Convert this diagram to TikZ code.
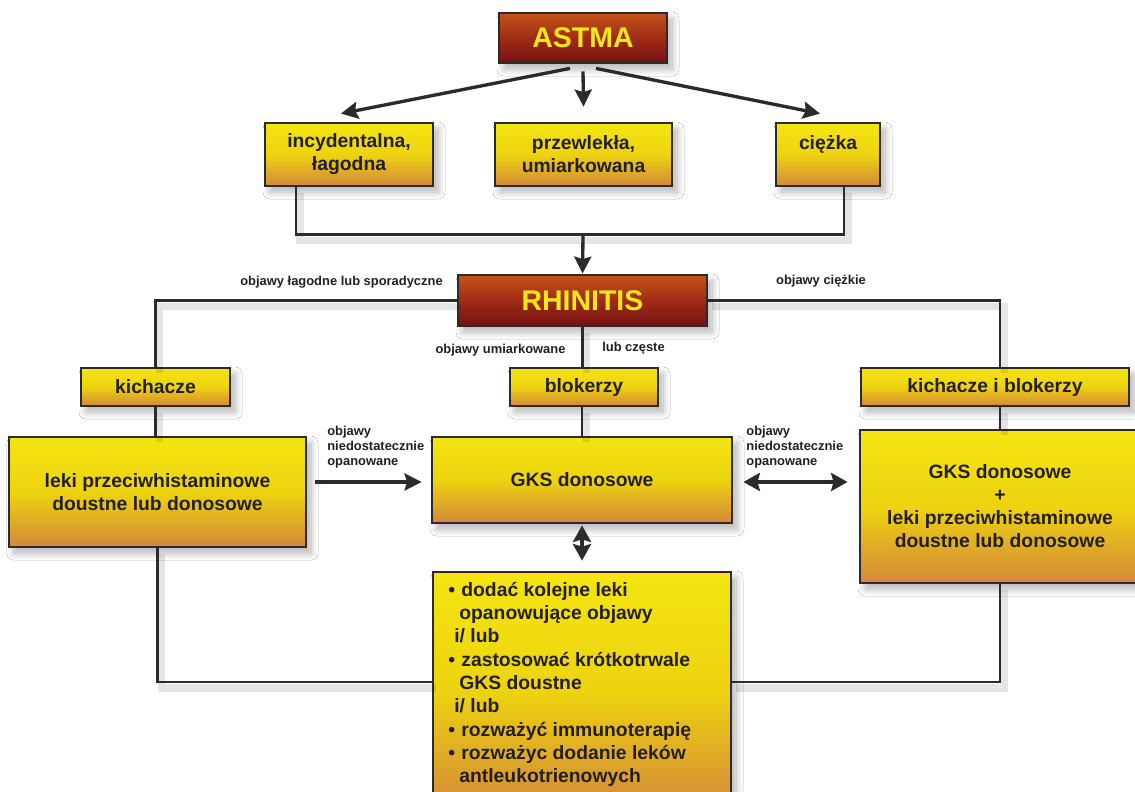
\documentclass[tikz,border=0pt]{standalone}
\usepackage{fontspec}
\setmainfont{Liberation Sans}
\usetikzlibrary{arrows.meta,calc,shadows.blur}
\newdimen\pxu \pxu=0.02cm
\definecolor{ytop}{HTML}{F4E512}
\definecolor{ymid}{HTML}{EDD310}
\definecolor{ybot}{HTML}{D4883A}
\definecolor{rtop}{HTML}{C4531A}
\definecolor{rmid}{HTML}{A02C14}
\definecolor{rbot}{HTML}{741012}
\definecolor{bordc}{HTML}{2B2B2B}
\definecolor{txtc}{HTML}{231F20}
\definecolor{ytxt}{HTML}{F6E61C}
\tikzset{
  shd/.style={blur shadow={shadow xshift=5\pxu, shadow yshift=-6\pxu, shadow blur radius=7\pxu, shadow blur steps=10, shadow opacity=30}},
  lshd/.style={preaction={draw=black, draw opacity=0.10, line width=4pt, transform canvas={shift={(4\pxu,-6\pxu)}}}},
  ybox/.style={draw=bordc, line width=1.6pt, top color=ytop, bottom color=ybot, middle color=ymid,
    text=txtc, font=\bfseries\fontsize{11}{13.1}\selectfont, align=center, inner sep=0pt, shd},
  rbox/.style={draw=bordc, line width=1.6pt, top color=rtop, bottom color=rbot, middle color=rmid,
    text=ytxt, font=\bfseries\fontsize{16.2}{18}\selectfont, inner sep=0pt, shd},
  conn/.style={draw=bordc, line width=1.4pt, lshd},
  bigarr/.style={draw=bordc, line width=1.9pt, -{Stealth[length=3.4mm, width=3.4mm, inset=0.5mm]}},
  dblarr/.style={draw=bordc, line width=2.2pt, {Stealth[length=3.3mm, width=3.6mm, inset=0.5mm]}-{Stealth[length=3.3mm, width=3.6mm, inset=0.5mm]}},
  lbl/.style={text=txtc, font=\bfseries\fontsize{7.35}{8.5}\selectfont, inner sep=0pt},
  btxt/.style={text=txtc, font=\bfseries\fontsize{11}{13.1}\selectfont, inner sep=0pt, anchor=base west},
}
\begin{document}
\begin{tikzpicture}[x=0.02cm, y=-0.02cm]
\useasboundingbox (0,0) rectangle (1135,791);
\fill[white] (0,0) rectangle (1135,791);

% connectors drawn first (under boxes)
\coordinate (lp) at (0,682);
\coordinate (bj) at (583,236);

% nodes
\node[rbox, minimum width=168\pxu, minimum height=50\pxu] (astma) at (583,38) {ASTMA};
\node[ybox, minimum width=168\pxu, minimum height=63\pxu] (inc) at (349,154.5) {incydentalna,\\łagodna};
\node[ybox, minimum width=177\pxu, minimum height=63\pxu] (prz) at (583.5,154.5) {przewlekła,\\umiarkowana};
\node[ybox, minimum width=104\pxu, minimum height=63\pxu] (cie) at (828,154.5) {ciężka\\{}};
\node[rbox, minimum width=249\pxu, minimum height=51\pxu] (rhin) at (582.5,300.5) {RHINITIS};
\node[ybox, minimum width=149\pxu, minimum height=38\pxu] (kich) at (155.5,387) {kichacze};
\node[ybox, minimum width=148\pxu, minimum height=38\pxu] (blok) at (584,387) {blokerzy};
\node[ybox, minimum width=268\pxu, minimum height=38\pxu] (kib) at (995,387) {kichacze i blokerzy};
\node[ybox, minimum width=297\pxu, minimum height=110\pxu] (leki) at (157.5,492) {leki przeciwhistaminowe\\doustne lub donosowe};
\node[ybox, minimum width=300\pxu, minimum height=86\pxu] (gks) at (582,480) {GKS donosowe};
\node[ybox, minimum width=280\pxu, minimum height=153\pxu] (gksl) at (1000,506.5) {GKS donosowe\\+\\leki przeciwhistaminowe\\doustne lub donosowe};
\node[ybox, minimum width=298\pxu, minimum height=238\pxu] (dod) at (582,691) {};

% bottom box text
\node[btxt] (d1) at (448,596) {\makebox[13\pxu][l]{•}dodać kolejne leki};
\node[btxt] (d2) at (459,619.3) {opanowujące objawy};
\node[btxt] (d3) at (454,642.7) {i/ lub};
\node[btxt] (d4) at (448,666) {\makebox[13\pxu][l]{•}zastosować krótkotrwale};
\node[btxt] (d5) at (459,689.3) {GKS doustne};
\node[btxt] (d6) at (454,712.7) {i/ lub};
\node[btxt] (d7) at (448,736) {\makebox[13\pxu][l]{•}rozważyć immunoterapię};
\node[btxt] (d8) at (448,759.3) {\makebox[13\pxu][l]{•}rozważyc dodanie leków};
\node[btxt] (d9) at (459,782.7) {antleukotrienowych};

% labels
\node[lbl, anchor=base] (l1) at (341.5,285) {objawy łagodne lub sporadyczne};
\node[lbl, anchor=base] (l2) at (821,284) {objawy ciężkie};
\node[lbl, anchor=base] (l3) at (500.5,353) {objawy umiarkowane};
\node[lbl, anchor=base] (l4) at (633.5,351) {lub częste};
\node[lbl, anchor=north west, align=left] (l5) at (327,425.5) {objawy\\niedostatecznie\\opanowane};
\node[lbl, anchor=north west, align=left] (l6) at (746,425.5) {objawy\\niedostatecznie\\opanowane};

% connectors
\draw[bigarr] ([xshift=-13\pxu,yshift=-4\pxu]astma.south) -- ([xshift=-8\pxu,yshift=8\pxu]inc.north);
\draw[bigarr] ([yshift=-7\pxu]astma.south) -- ([yshift=15\pxu]prz.north);
\draw[bigarr] ([xshift=13\pxu,yshift=-4\pxu]astma.south) -- ([xshift=-8\pxu,yshift=8\pxu]cie.north);

\draw[conn] ([xshift=-53\pxu]inc.south) -- ++(0,47) -| ([xshift=16\pxu]cie.south);
\draw[bigarr] (bj) -- (rhin.north);

\draw[conn] (rhin.west) -| (kich.north);
\draw[conn] (rhin.east) -| ([xshift=5\pxu]kib.north);
\draw[conn] (rhin.south) -- (rhin.south |- blok.north);
\draw[conn] (kich.south) -- (kich.south |- leki.north);
\draw[conn] (blok.south -| gks.north) -- (gks.north);
\draw[conn] (kib.south -| gksl.north) -- (gksl.north);

\draw[bigarr, line width=2.2pt] ($(leki.east |- gks.west)+(8,2)$) -- ($(gks.west)+(-9,2)$);
\draw[dblarr] ($(gks.east)+(10,2)$) -- ($(gks.east -| gksl.west)+(-11,2)$);
\draw[dblarr] ([yshift=-1\pxu]gks.south) -- ([yshift=10\pxu]dod.north);

\draw[conn] (leki.south) |- (lp -| dod.west);
\draw[conn] (gksl.south) |- (lp -| dod.east);
\end{tikzpicture}
\end{document}
